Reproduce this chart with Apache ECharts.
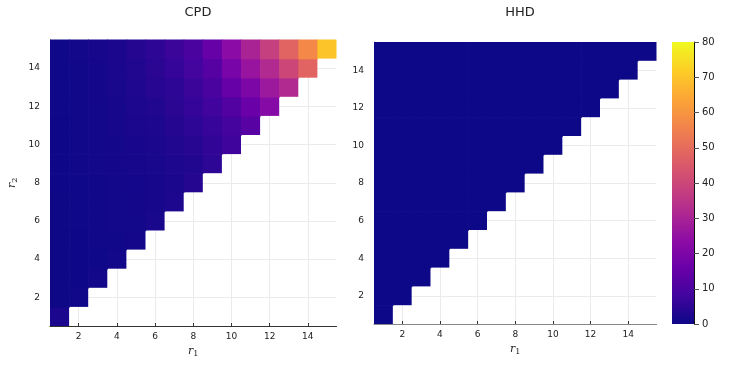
<!DOCTYPE html>
<html>
<head>
<meta charset="utf-8">
<script src="https://cdn.jsdelivr.net/npm/echarts@6/dist/echarts.min.js"></script>
<style>html,body{margin:0;padding:0;background:#fff}#c{width:753px;height:377px}</style>
</head>
<body>
<div id="c"></div>
<script>
// r1 values (x) and r2 values (y) 1..15
const r1Categories = [1,2,3,4,5,6,7,8,9,10,11,12,13,14,15];
const tickValues = [2,4,6,8,10,12,14];
const colorbarTicks = [0,10,20,30,40,50,60,70,80];
// CPD: row index = r2-1, entries for r1 = 1..r2
const cpdValues = [
  [2.0],
  [0.1,0.5],
  [0.1,0.2,0.7],
  [0.1,0.2,0.3,0.9],
  [0.1,0.2,0.4,0.6,1.2],
  [0.1,0.3,0.4,0.7,1.0,1.8],
  [0.1,0.3,0.5,0.8,1.1,1.4,2.5],
  [0.2,0.3,0.6,1.0,1.3,1.6,2.2,3.5],
  [0.2,0.4,0.7,1.1,1.5,1.8,2.5,3.0,5.0],
  [0.2,0.4,0.8,1.2,1.7,2.0,3.0,4.0,5.5,7.5],
  [0.2,0.5,0.9,1.4,2.0,2.5,3.5,5.0,6.5,9.0,12.5],
  [0.3,0.5,1.0,1.6,2.4,3.0,4.5,6.0,8.0,11.5,16,22],
  [0.3,0.6,1.2,1.8,2.8,4.0,5.0,7.0,10,15,20,27,32],
  [0.3,0.6,1.3,2.0,3.0,4.5,6.0,8.5,12,19,26,32,40,48],
  [0.3,0.7,1.5,2.2,3.5,5.0,7.0,10,15,23,30,38,48,57,70]
];
// HHD: all cells essentially zero
const hhdValues = [
  [0],
  [0,0],
  [0,0,0],
  [0,0,0,0],
  [0,0,0,0,0],
  [0,0,0,0,0,0],
  [0,0,0,0,0,0,0],
  [0,0,0,0,0,0,0,0],
  [0,0,0,0,0,0,0,0,0],
  [0,0,0,0,0,0,0,0,0,0],
  [0,0,0,0,0,0,0,0,0,0,0],
  [0,0,0,0,0,0,0,0,0,0,0,0],
  [0,0,0,0,0,0,0,0,0,0,0,0,0],
  [0,0,0,0,0,0,0,0,0,0,0,0,0,0],
  [0,0,0,0,0,0,0,0,0,0,0,0,0,0,0]
];
const plasma = ['#0d0887','#41049d','#6a00a8','#8f0da4','#b12a90','#cc4778','#e16462','#f2844b','#fca636','#fcce25','#f0f921'];

function toTriples(rows){
  const out=[];
  rows.forEach((row,i)=>{ row.forEach((v,j)=>{ out.push([r1Categories[j], r1Categories[i], v]); }); });
  return out;
}
function renderItem(params, api){
  const x=api.value(0), y=api.value(1);
  const p0=api.coord([x-0.5,y+0.5]);
  const p1=api.coord([x+0.5,y-0.5]);
  const c=api.visual('color');
  // small overlap only where a neighbouring cell exists, so no seams show
  const padR = (x < y) ? 0.7 : 0;
  const padB = (y > x) ? 0.7 : 0;
  return {type:'rect', shape:{x:p0[0],y:p0[1],width:p1[0]-p0[0]+padR,height:p1[1]-p0[1]+padB},
          style:{fill:c}};
}
const FONT='DejaVu Sans';
const nameRich = {
  i:{fontFamily:'DejaVu Serif',fontStyle:'italic',fontSize:11,color:'#222'},
  s:{fontFamily:'DejaVu Serif',fontSize:8,color:'#222',verticalAlign:'bottom',padding:[6,0,0,0]}
};
function xAxisDef(gi, lineColor){
  return {type:'value', gridIndex:gi, min:0.5, max:15.5,
    name: '{i|r}{s|1}', nameLocation:'middle', nameGap:17, nameTextStyle:{rich:nameRich},
    axisLine:{show:true,onZero:false,lineStyle:{color:lineColor,width:1.2}},
    axisTick:{show:true,inside:true,length:3,customValues:tickValues,lineStyle:{color:'#333'}},
    axisLabel:{customValues:tickValues,fontFamily:FONT,fontSize:9,color:'#222',margin:6},
    splitLine:{show:true,lineStyle:{color:'#ebebeb',width:1}}
  };
}
function yAxisDef(gi, withName){
  const a = {type:'value', gridIndex:gi, min:0.5, max:15.5,
    axisLine:{show:true,onZero:false,lineStyle:{color:'#aaa',width:1}},
    axisTick:{show:true,inside:true,length:3,customValues:tickValues,lineStyle:{color:'#333'}},
    axisLabel:{customValues:tickValues,fontFamily:FONT,fontSize:9,color:'#222',margin:10},
    splitLine:{show:true,lineStyle:{color:'#ebebeb',width:1}}
  };
  if(withName){ a.name='{i|r}{s|2}'; a.nameLocation='middle'; a.nameGap=31; a.nameTextStyle={rich:nameRich}; }
  return a;
}
const gradStops = plasma.map((c,i)=>({offset:i/10,color:c}));
const chart = echarts.init(document.getElementById('c'));
chart.setOption({
  animation:false,
  backgroundColor:'#fff',
  title:[
    {text:'CPD', left:193, top:1, textAlign:'center', textStyle:{fontFamily:FONT,fontSize:13,fontWeight:'normal',color:'#222'}},
    {text:'HHD', left:515, top:1, textAlign:'center', textStyle:{fontFamily:FONT,fontSize:13,fontWeight:'normal',color:'#222'}}
  ],
  grid:[
    {left:50, top:39.5, width:286.5, height:286.5},
    {left:374, top:42, width:282.5, height:282},
    {left:672, top:42, width:22, height:282}
  ],
  xAxis:[
    xAxisDef(0,'#333'),
    xAxisDef(1,'#888'),
    {type:'category', gridIndex:2, data:[''], show:false}
  ],
  yAxis:[
    yAxisDef(0,true),
    yAxisDef(1,false),
    {type:'value', gridIndex:2, min:0, max:80, interval:10, position:'right',
     axisLine:{show:true,lineStyle:{color:'#111',width:1}},
     axisTick:{show:true,inside:false,length:5,lineStyle:{color:'#555'}},
     axisLabel:{fontFamily:FONT,fontSize:10,color:'#222',margin:8},
     splitLine:{show:false}}
  ],
  visualMap:{type:'continuous', min:0, max:80, dimension:2, seriesIndex:[0,1], show:false,
    inRange:{color:plasma}},
  series:[
    {type:'custom', xAxisIndex:0, yAxisIndex:0, renderItem:renderItem, data:toTriples(cpdValues), encode:{x:0,y:1}},
    {type:'custom', xAxisIndex:1, yAxisIndex:1, renderItem:renderItem, data:toTriples(hhdValues), encode:{x:0,y:1}},
    {type:'bar', xAxisIndex:2, yAxisIndex:2, data:[colorbarTicks[colorbarTicks.length-1]], barWidth:'100%',
     itemStyle:{color:new echarts.graphic.LinearGradient(0,1,0,0,gradStops)}}
  ]
});
</script>
</body>
</html>
